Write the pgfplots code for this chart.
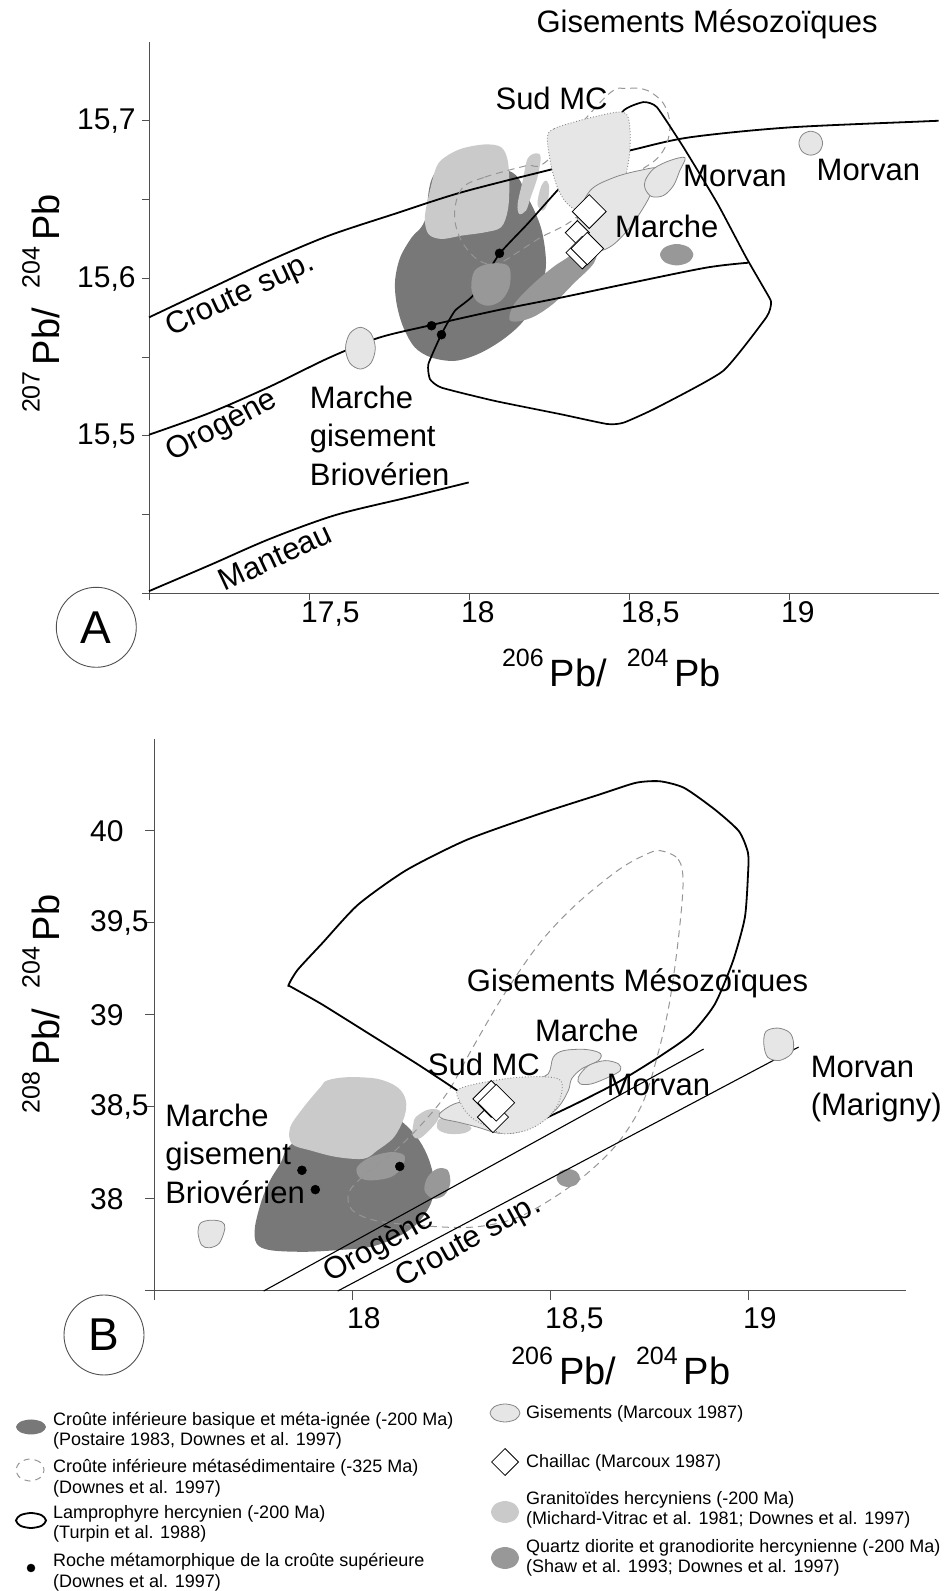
\documentclass[border=0pt]{standalone}
\usepackage{fontspec}
\setmainfont{Liberation Sans}
\usepackage{pgfplots}
\pgfplotsset{compat=1.18}
\definecolor{darkf}{RGB}{120,120,120}
\definecolor{lightf}{RGB}{202,202,202}
\definecolor{medf}{RGB}{152,152,152}
\definecolor{gisf}{RGB}{230,230,230}
\definecolor{gisl}{RGB}{135,135,135}
\definecolor{dashc}{RGB}{150,150,150}
\definecolor{axc}{RGB}{80,80,80}
\tikzset{ann/.style={font=\fontsize{31}{38.5}\selectfont, inner sep=0pt, align=left}}
\newcommand{\isosup}[1]{\raisebox{20pt}{\fontsize{25}{25}\selectfont #1}\hspace{6pt}}
\pgfplotsset{
  fld/.style={draw=none, fill=#1, smooth cycle, tension=0.55, forget plot},
  gis/.style={draw=gisl, line width=0.8pt, fill=gisf, smooth cycle, tension=0.55, forget plot},
  crv/.style={black, line width=1.8pt, smooth, tension=0.5, forget plot},
  myaxis/.style={scale only axis, anchor=south west, clip=false,
    axis lines=left, axis line style={-, draw=axc, line width=1pt},
    tick style={draw=axc, line width=1pt}, tick align=outside,
    tick label style={font=\fontsize{30}{30}\selectfont, inner sep=1pt}},
}
\begin{document}
\begin{tikzpicture}
\path[use as bounding box] (0pt,0pt) rectangle (943pt,1591pt);

% ================= PANEL A =================
\begin{axis}[myaxis, at={(149pt,997.5pt)}, width=790.4pt, height=551.25pt,
  xmin=17, xmax=19.47, ymin=15.4, ymax=15.75, major tick length=7pt,
  xtick={17,17.5,18,18.5,19}, xticklabels={,{17,5},18,{18,5},19},
  ytick={15.4,15.45,15.5,15.55,15.6,15.65,15.7}, yticklabels={,,{15,5},,{15,6},,{15,7}},
  xticklabel style={anchor=north west, xshift=-9pt},
  yticklabel style={anchor=west, xshift=-66pt}]
% dark field
\addplot[fld=darkf] coordinates {(17.9037,15.6686) (18.121,15.6686) (18.183,15.6516) (18.2245,15.6325) (18.240,15.6134) (18.235,15.6007) (18.204,15.5838) (18.162,15.5711) (18.100,15.5604) (18.028,15.5520) (17.9556,15.5477) (17.883,15.5498) (17.831,15.5562) (17.795,15.5689) (17.774,15.5838) (17.769,15.5986) (17.785,15.6134) (17.821,15.6261) (17.862,15.6368)};
% granitoid blob and slivers
\addplot[fld=lightf] coordinates {(17.9245,15.6770) (17.976,15.6824) (18.049,15.6851) (18.100,15.6834) (18.121,15.6749) (18.126,15.6580) (18.121,15.6431) (18.100,15.6325) (18.049,15.6293) (17.976,15.6272) (17.914,15.6251) (17.873,15.6283) (17.862,15.6389) (17.878,15.6559) (17.898,15.6707)};
\addplot[fld=lightf] coordinates {(18.183,15.6760) (18.209,15.6795) (18.224,15.6770) (18.214,15.6643) (18.193,15.6516) (18.178,15.6431) (18.157,15.6410) (18.152,15.6474) (18.168,15.6622)};
\addplot[fld=lightf] coordinates {(18.2245,15.6580) (18.240,15.6622) (18.2505,15.6580) (18.245,15.6474) (18.230,15.6431) (18.214,15.6474)};
% medium band
\addplot[fld=medf] coordinates {(18.126,15.5742) (18.142,15.5840) (18.204,15.5972) (18.266,15.6077) (18.307,15.6132) (18.3696,15.6228) (18.400,15.6200) (18.390,15.6097) (18.328,15.5970) (18.266,15.5844) (18.204,15.5759) (18.152,15.5727)};
% curves
\addplot[crv] coordinates {(17.0,15.5753) (17.189,15.5935) (17.376,15.6113) (17.562,15.6272) (17.770,15.6412) (17.975,15.6546) (18.245,15.6686) (18.503,15.6813) (18.689,15.6896) (19.0,15.6959) (19.416,15.6997) (19.466,15.7001)};
\addplot[crv] coordinates {(17.0,15.5008) (17.189,15.5146) (17.376,15.5312) (17.562,15.5496) (17.717,15.5623) (17.873,15.5700) (18.081,15.5795) (18.286,15.5878) (18.494,15.5967) (18.742,15.6069) (18.873,15.6100)};
\addplot[crv] coordinates {(17.0,15.4015) (17.191,15.4181) (17.378,15.4347) (17.583,15.4498) (17.807,15.4609) (17.999,15.4705)};
% dashed metasedimentary
\addplot[draw=dashc, line width=1pt, dash pattern=on 7pt off 5pt, smooth cycle, tension=0.55, forget plot] coordinates {(17.9866,15.6590) (18.0487,15.6643) (18.121,15.6686) (18.183,15.6718) (18.245,15.6749) (18.432,15.7163) (18.494,15.7206) (18.556,15.7195) (18.608,15.7110) (18.628,15.6983) (18.618,15.6856) (18.587,15.6760) (18.535,15.6686) (18.473,15.6601) (18.390,15.6474) (18.307,15.6347) (18.2245,15.6261) (18.152,15.6166) (18.100,15.6102) (18.059,15.6092) (18.0177,15.6134) (17.976,15.6240) (17.9556,15.6368) (17.9606,15.6495)};
% lamprophyre
\addplot[black, line width=1.7pt, smooth cycle, tension=0.3, forget plot] coordinates {(18.4836,15.7067) (18.5457,15.7120) (18.587,15.7088) (18.670,15.6834) (18.7764,15.6476) (18.866,15.6134) (18.938,15.5880) (18.944,15.5840) (18.929,15.5753) (18.794,15.5413) (18.587,15.5180) (18.4836,15.5085) (18.432,15.5076) (18.287,15.5138) (18.080,15.5223) (17.914,15.5307) (17.878,15.5361) (17.873,15.5456) (17.914,15.5647) (17.956,15.5795) (18.012,15.5891) (18.095,15.6156) (18.183,15.6347) (18.276,15.6559) (18.390,15.6813)};
% medium blob and ellipse
\addplot[fld=medf] coordinates {(18.0177,15.6050) (18.059,15.6092) (18.111,15.6092) (18.129,15.6050) (18.126,15.5943) (18.100,15.5859) (18.059,15.5827) (18.023,15.5859) (18.007,15.5943)};
\addplot[fld=medf] coordinates {(18.701,15.6151) (18.6856,15.6199) (18.649,15.6219) (18.6124,15.6199) (18.597,15.6151) (18.6124,15.6103) (18.649,15.6083) (18.6856,15.6103)};
% Sud MC field (dotted)
\addplot[draw=gisl, line width=0.9pt, dotted, fill=gisf, smooth cycle, tension=0.55, forget plot] coordinates {(18.245,15.6898) (18.266,15.6951) (18.328,15.6993) (18.411,15.7036) (18.473,15.7057) (18.497,15.7025) (18.504,15.6898) (18.499,15.6749) (18.4836,15.6622) (18.452,15.6538) (18.401,15.6484) (18.349,15.6431) (18.307,15.6474) (18.276,15.6580) (18.2556,15.6728)};
% Marche field and Morvan
\addplot[gis] coordinates {(18.3385,15.6380) (18.379,15.6559) (18.453,15.6641) (18.534,15.6686) (18.593,15.6698) (18.580,15.6590) (18.549,15.6463) (18.500,15.6317) (18.447,15.6209) (18.401,15.6177) (18.354,15.6240)};
\addplot[gis] coordinates {(18.5506,15.6622) (18.577,15.6697) (18.628,15.6749) (18.675,15.6767) (18.659,15.6686) (18.639,15.6590) (18.608,15.6527) (18.571,15.6520) (18.5506,15.6569)};
\addplot[gis] coordinates {(19.105,15.6859) (19.0942,15.6913) (19.068,15.6935) (19.0418,15.6913) (19.031,15.6859) (19.0418,15.6805) (19.068,15.6783) (19.0942,15.6805)};
\addplot[gis] coordinates {(17.7072,15.5557) (17.6935,15.5651) (17.6606,15.5690) (17.6277,15.5651) (17.614,15.5557) (17.6277,15.5463) (17.6606,15.5425) (17.6935,15.5463)};
% Chaillac diamonds
\addplot[only marks, mark=square*, mark size=8.5pt, mark options={fill=white, draw=black, line width=0.8pt, rotate=45}, forget plot] coordinates {(18.3385,15.6291)};
\addplot[only marks, mark=square*, mark size=12pt, mark options={fill=white, draw=black, line width=0.8pt, rotate=45}, forget plot] coordinates {(18.3758,15.6425)};
\addplot[only marks, mark=square*, mark size=11.5pt, mark options={fill=white, draw=black, line width=0.8pt, rotate=45}, forget plot] coordinates {(18.354,15.6164)};
\addplot[only marks, mark=square*, mark size=11.5pt, mark options={fill=white, draw=black, line width=0.8pt, rotate=45}, forget plot] coordinates {(18.3696,15.6190)};
% dots
\addplot[only marks, mark=*, mark size=4.5pt, black, forget plot] coordinates {(18.0953,15.6160) (17.883,15.5700) (17.914,15.5643)};
% labels
\node[ann] at (axis cs:18.744,15.7616) {Gisements Mésozoïques};
\node[ann] at (axis cs:18.258,15.7144) {Sud MC};
\node[ann] at (axis cs:18.831,15.6652) {Morvan};
\node[ann] at (axis cs:19.248,15.6689) {Morvan};
\node[ann] at (axis cs:18.618,15.6329) {Marche};
\node[ann, rotate=25] at (axis cs:17.286,15.5891) {Croute sup.};
\node[ann, rotate=28] at (axis cs:17.228,15.5063) {Orogène};
\node[ann, rotate=25] at (axis cs:17.394,15.4232) {Manteau};
\node[ann, anchor=west] at (axis cs:17.502,15.5002) {Marche\\gisement\\Briovérien};
\end{axis}

% ================= PANEL B =================
\begin{axis}[myaxis, at={(154pt,300pt)}, width=752.4pt, height=552pt,
  xmin=17.5, xmax=19.4, ymin=37.5, ymax=40.5, major tick length=9pt,
  xtick={17.5,18,18.5,19}, xticklabels={,18,{18,5},19},
  ytick={37.5,38,38.5,39,39.5,40}, yticklabels={,38,{38,5},39,{39,5},40},
  xticklabel style={anchor=north west, xshift=-6pt, yshift=-6pt},
  yticklabel style={anchor=west, xshift=-56pt}]
\addplot[fld=darkf] coordinates {(18.132,38.409) (18.170,38.318) (18.195,38.210) (18.208,38.084) (18.199,37.975) (18.165,37.867) (18.115,37.794) (18.047,37.740) (17.962,37.722) (17.878,37.713) (17.793,37.722) (17.759,37.758) (17.755,37.848) (17.772,37.993) (17.793,38.101) (17.819,38.192) (17.848,38.300) (17.962,38.445) (18.089,38.463)};
\addplot[fld=lightf] coordinates {(17.988,38.662) (18.064,38.653) (18.115,38.607) (18.136,38.536) (18.132,38.445) (18.106,38.336) (18.064,38.264) (18.030,38.219) (17.962,38.228) (17.895,38.264) (17.848,38.300) (17.844,38.390) (17.878,38.499) (17.920,38.607) (17.937,38.644)};
\addplot[fld=medf] coordinates {(18.013,38.174) (18.047,38.228) (18.098,38.255) (18.132,38.237) (18.127,38.174) (18.098,38.119) (18.047,38.101) (18.018,38.119)};
\addplot[fld=medf] coordinates {(18.216,38.165) (18.242,38.156) (18.248,38.084) (18.233,38.020) (18.204,38.002) (18.183,38.047) (18.191,38.119)};
\addplot[fld=medf] coordinates {(18.5757,38.114) (18.567,38.1485) (18.546,38.1628) (18.525,38.1485) (18.5163,38.114) (18.525,38.0795) (18.546,38.0652) (18.567,38.0795)};
\addplot[fld=lightf] coordinates {(18.161,38.445) (18.191,38.485) (18.221,38.481) (18.216,38.427) (18.195,38.373) (18.170,38.328) (18.153,38.346) (18.155,38.409)};
\addplot[fld=lightf] coordinates {(18.221,38.436) (18.259,38.427) (18.301,38.390) (18.284,38.358) (18.242,38.355) (18.216,38.382)};
% dashed
\addplot[draw=dashc, line width=1pt, dash pattern=on 7pt off 5pt, smooth cycle, tension=0.55, forget plot] coordinates {(18.778,39.893) (18.824,39.846) (18.836,39.717) (18.824,39.411) (18.801,39.058) (18.771,38.776) (18.733,38.517) (18.672,38.306) (18.595,38.141) (18.504,38.000) (18.412,37.894) (18.305,37.847) (18.183,37.854) (18.061,37.882) (18.000,37.941) (17.992,38.035) (18.031,38.129) (18.107,38.259) (18.183,38.423) (18.244,38.588) (18.305,38.823) (18.382,39.105) (18.473,39.388) (18.565,39.599) (18.672,39.787) (18.740,39.870)};
% lamprophyre
\addplot[black, line width=1.8pt, smooth, tension=0.4, forget plot] coordinates {(18.267,38.588) (18.168,38.729) (18.046,38.894) (17.924,39.058) (17.847,39.152) (17.840,39.164) (17.863,39.246) (17.924,39.388) (18.015,39.599) (18.137,39.787) (18.290,39.952) (18.473,40.093) (18.626,40.199) (18.717,40.262) (18.778,40.270) (18.839,40.234) (18.916,40.117) (18.977,39.999) (19.000,39.881) (19.000,39.764) (18.992,39.529) (18.962,39.293) (18.916,39.058) (18.855,38.894) (18.778,38.776) (18.672,38.635) (18.565,38.517) (18.473,38.423)};
% Orogene / Croute sup. lines
\addplot[black, line width=1.1pt, forget plot] coordinates {(17.777,37.5) (18.888,38.815)};
\addplot[black, line width=1.1pt, forget plot] coordinates {(17.964,37.5) (19.128,38.826)};
% gisement fields
\addplot[gis] coordinates {(18.2206,38.463) (18.2586,38.517) (18.3178,38.544) (18.3855,38.572) (18.4531,38.644) (18.4954,38.680) (18.5081,38.770) (18.5335,38.806) (18.5886,38.813) (18.6266,38.792) (18.6223,38.752) (18.5799,38.707) (18.5546,38.653) (18.5462,38.589) (18.5208,38.499) (18.4701,38.409) (18.4193,38.363) (18.3685,38.358) (18.3178,38.390) (18.2670,38.418) (18.2289,38.436)};
\addplot[gis] coordinates {(18.5716,38.662) (18.5970,38.725) (18.6393,38.752) (18.6731,38.734) (18.6774,38.698) (18.6477,38.662) (18.6053,38.626) (18.5759,38.626)};
\addplot[draw=gisl, line width=0.9pt, dotted, fill=gisf, smooth cycle, tension=0.55, forget plot] coordinates {(18.2713,38.599) (18.3855,38.653) (18.4701,38.665) (18.5208,38.653) (18.5310,38.608) (18.5208,38.517) (18.4912,38.436) (18.4447,38.376) (18.3855,38.354) (18.3516,38.382) (18.3008,38.445) (18.2754,38.517)};
\addplot[gis] coordinates {(17.679,37.84) (17.672,37.875) (17.645,37.885) (17.618,37.87) (17.611,37.82) (17.62,37.75) (17.64,37.735) (17.665,37.76)};
\addplot[gis] coordinates {(19.115,38.85) (19.105,38.905) (19.075,38.929) (19.045,38.91) (19.04,38.84) (19.05,38.77) (19.08,38.753) (19.11,38.79)};
% diamonds
\addplot[only marks, mark=square*, mark size=11pt, mark options={fill=white, draw=black, line width=0.8pt, rotate=45}, forget plot] coordinates {(18.3558,38.445)};
\addplot[only marks, mark=square*, mark size=13pt, mark options={fill=white, draw=black, line width=0.8pt, rotate=45}, forget plot] coordinates {(18.3516,38.544)};
\addplot[only marks, mark=square*, mark size=13pt, mark options={fill=white, draw=black, line width=0.8pt, rotate=45}, forget plot] coordinates {(18.3642,38.523)};
% dots
\addplot[only marks, mark=*, mark size=4.5pt, black, forget plot] coordinates {(17.8736,38.156) (17.9074,38.051) (18.1206,38.177)};
% labels
\node[ann] at (axis cs:18.721,39.174) {Gisements Mésozoïques};
\node[ann] at (axis cs:18.593,38.914) {Marche};
\node[ann] at (axis cs:18.333,38.734) {Sud MC};
\node[ann] at (axis cs:18.774,38.620) {Morvan};
\node[ann, anchor=west] at (axis cs:19.158,38.598) {Morvan\\(Marigny)};
\node[ann, anchor=west] at (axis cs:17.528,38.245) {Marche\\gisement\\Briovérien};
\node[ann, rotate=29] at (axis cs:18.068,37.742) {Orogène};
\node[ann, rotate=29] at (axis cs:18.295,37.766) {Croute sup.};
\end{axis}

% ================= LEGEND =================
\begin{axis}[at={(0pt,0pt)}, anchor=south west, scale only axis, width=943pt, height=211pt,
  xmin=0, xmax=943, ymin=0, ymax=211, hide axis, clip=false]
\addplot[fld=darkf] coordinates {(46,164) (41.6,169.3) (31,171.5) (20.4,169.3) (16,164) (20.4,158.7) (31,156.5) (41.6,158.7)};
\addplot[draw=dashc, line width=1pt, dash pattern=on 6pt off 5pt, smooth cycle, forget plot] coordinates {(44,121) (39.9,128.8) (30,132) (20.1,128.8) (16,121) (20.1,113.2) (30,110) (39.9,113.2)};
\addplot[draw=black, line width=1.8pt, smooth cycle, forget plot] coordinates {(46,70.5) (41.6,75.8) (31,78) (20.4,75.8) (16,70.5) (20.4,65.2) (31,63) (41.6,65.2)};
\addplot[only marks, mark=*, mark size=4pt, black, forget plot] coordinates {(31,23)};
\addplot[gis] coordinates {(520,178) (515.6,184.4) (505,187) (494.4,184.4) (490,178) (494.4,171.6) (505,169) (515.6,171.6)};
\addplot[only marks, mark=square*, mark size=9.5pt, mark options={fill=white, draw=black, line width=0.8pt, rotate=45}, forget plot] coordinates {(505,129)};
\addplot[fld=lightf] coordinates {(519,79) (514.9,86.8) (505,90) (495.1,86.8) (491,79) (495.1,71.2) (505,68) (514.9,71.2)};
\addplot[fld=medf] coordinates {(519,33) (514.9,40.8) (505,44) (495.1,40.8) (491,33) (495.1,25.2) (505,22) (514.9,25.2)};
\begin{scope}[every node/.style={anchor=west, align=left, inner sep=0pt, font=\fontsize{18}{20.5}\selectfont}]
\node at (axis cs:53,160.5) {Croûte inférieure basique et méta-ignée (-200 Ma)\\(Postaire 1983, Downes et al. 1997)};
\node at (axis cs:53,113) {Croûte inférieure métasédimentaire (-325 Ma)\\(Downes et al. 1997)};
\node at (axis cs:53,67) {Lamprophyre hercynien (-200 Ma)\\(Turpin et al. 1988)};
\node at (axis cs:53,19) {Roche métamorphique de la croûte supérieure\\(Downes et al. 1997)};
\node at (axis cs:526,177) {Gisements (Marcoux 1987)};
\node at (axis cs:526,128) {Chaillac (Marcoux 1987)};
\node at (axis cs:526,81) {Granitoïdes hercyniens (-200 Ma)\\(Michard-Vitrac et al. 1981; Downes et al. 1997)};
\node at (axis cs:526,33) {Quartz diorite et granodiorite hercynienne (-200 Ma)\\(Shaw et al. 1993; Downes et al. 1997)};
\end{scope}
\end{axis}

% axis titles and panel letters
\node[anchor=base, inner sep=0pt, font=\fontsize{38}{38}\selectfont] at (611.5pt,904pt) {\isosup{206}Pb/\hspace{20pt}\isosup{204}Pb};
\node[anchor=base, inner sep=0pt, rotate=90, font=\fontsize{38}{38}\selectfont] at (59.5pt,1287.5pt) {\isosup{207}Pb/\hspace{20pt}\isosup{204}Pb};
\node[anchor=base, inner sep=0pt, font=\fontsize{38}{38}\selectfont] at (620.8pt,206pt) {\isosup{206}Pb/\hspace{20pt}\isosup{204}Pb};
\node[anchor=base, inner sep=0pt, rotate=90, font=\fontsize{38}{38}\selectfont] at (59.5pt,587pt) {\isosup{208}Pb/\hspace{20pt}\isosup{204}Pb};
\node[circle, draw=axc, line width=0.9pt, minimum size=80pt, inner sep=0pt, font=\fontsize{46}{46}\selectfont] at (96.3pt,963.7pt) {A};
\node[circle, draw=axc, line width=0.9pt, minimum size=80pt, inner sep=0pt, font=\fontsize{46}{46}\selectfont] at (104pt,256pt) {B};
\end{tikzpicture}
\end{document}
